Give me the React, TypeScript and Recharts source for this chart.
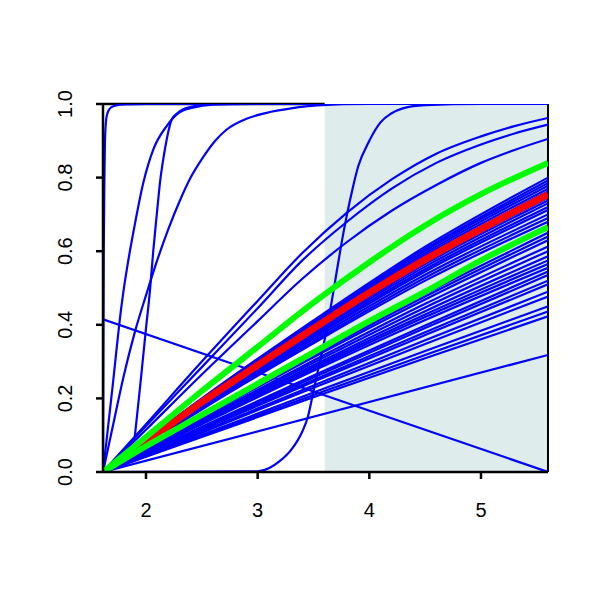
import React from 'react';
import { LineChart, Line, XAxis, YAxis, ReferenceArea, ReferenceLine } from 'recharts';

const xTicks = [2, 3, 4, 5];
const yTicks = [0, 0.2, 0.4, 0.6, 0.8, 1];
const xMin = 1.615;
const xMax = 5.6;
const shadeFrom = 3.6;

// steep curves that saturate at 1
const curveA = [
  [1.615, 0], [1.618, 0.3], [1.622, 0.6], [1.628, 0.8], [1.635, 0.92], [1.648, 0.967],
  [1.67, 0.985], [1.707, 0.994], [1.8, 0.999], [2.0, 1], [5.6, 1],
];
const curveB = [
  [1.615, 0], [1.7, 0.23], [1.78, 0.45], [1.8, 0.495], [1.84, 0.572], [1.886, 0.65],
  [1.976, 0.786], [2.065, 0.876], [2.185, 0.94], [2.3, 0.977], [2.42, 0.99], [2.6, 0.998],
  [3.0, 1], [5.6, 1],
];
const curveC = [
  [1.9, 0.096], [1.95, 0.24], [2.0, 0.39], [2.036, 0.495], [2.065, 0.6], [2.1, 0.71],
  [2.125, 0.786], [2.16, 0.86], [2.185, 0.903], [2.23, 0.958], [2.28, 0.975], [2.33, 0.985],
  [2.45, 0.995], [2.6, 1], [5.6, 1],
];
const curveD = [
  [1.615, 0], [1.7, 0.12], [1.8, 0.26], [1.9, 0.38], [2.0, 0.48], [2.1, 0.575], [2.2, 0.66],
  [2.3, 0.735], [2.4, 0.8], [2.5, 0.85], [2.62, 0.9], [2.72, 0.93], [2.9, 0.96], [3.08, 0.976],
  [3.3, 0.988], [3.53, 0.996], [4.0, 1], [5.6, 1],
];
const curveE = [
  [1.615, 0], [3.0, 0.002], [3.1, 0.01], [3.2, 0.03], [3.3, 0.06], [3.4, 0.11], [3.45, 0.15],
  [3.5, 0.22], [3.55, 0.29], [3.6, 0.36], [3.65, 0.44], [3.7, 0.53], [3.75, 0.62], [3.8, 0.7],
  [3.85, 0.77], [3.9, 0.83], [4.0, 0.9], [4.1, 0.95], [4.2, 0.975], [4.3, 0.988], [4.5, 0.997],
  [5.0, 1], [5.6, 1],
];

// three upper concave curves
const upperX = [1.615, 2.0, 2.5, 3.0, 3.4, 3.8, 4.2, 4.6, 5.0, 5.3, 5.6];
const upperCurves = [
  [0, 0.13, 0.3, 0.465, 0.595, 0.705, 0.795, 0.865, 0.912, 0.94, 0.962],
  [0, 0.125, 0.285, 0.445, 0.575, 0.68, 0.77, 0.84, 0.89, 0.92, 0.944],
  [0, 0.115, 0.265, 0.41, 0.525, 0.625, 0.71, 0.78, 0.84, 0.875, 0.905],
];

// straight lines
const lineDown = [[1.615, 0.415], [5.6, 0]];
const lineUp = [[1.615, 0], [5.6, 0.318]];

// dense fan of blue curves
const fanX = [1.615, 2.5, 3.5, 4.5, 5.6];
const fanCurves = [
  [0, 0.2, 0.412, 0.612, 0.8],
  [0, 0.198, 0.408, 0.606, 0.792],
  [0, 0.196, 0.404, 0.601, 0.785],
  [0, 0.195, 0.401, 0.595, 0.778],
  [0, 0.193, 0.397, 0.589, 0.77],
  [0, 0.191, 0.392, 0.583, 0.762],
  [0, 0.186, 0.384, 0.57, 0.745],
  [0, 0.185, 0.38, 0.565, 0.738],
  [0, 0.183, 0.376, 0.558, 0.73],
  [0, 0.18, 0.371, 0.551, 0.72],
  [0, 0.178, 0.367, 0.545, 0.712],
  [0, 0.175, 0.361, 0.536, 0.7],
  [0, 0.173, 0.355, 0.528, 0.69],
  [0, 0.17, 0.35, 0.52, 0.68],
  [0, 0.153, 0.322, 0.484, 0.65],
  [0, 0.15, 0.317, 0.477, 0.64],
  [0, 0.148, 0.312, 0.469, 0.63],
  [0, 0.144, 0.303, 0.457, 0.613],
  [0, 0.141, 0.297, 0.447, 0.6],
  [0, 0.138, 0.29, 0.437, 0.586],
  [0, 0.135, 0.285, 0.428, 0.575],
  [0, 0.133, 0.28, 0.421, 0.565],
  [0, 0.13, 0.275, 0.413, 0.555],
  [0, 0.123, 0.262, 0.398, 0.545],
  [0, 0.12, 0.257, 0.391, 0.535],
  [0, 0.117, 0.25, 0.38, 0.52],
  [0, 0.115, 0.245, 0.372, 0.51],
  [0, 0.11, 0.235, 0.358, 0.49],
  [0, 0.107, 0.229, 0.348, 0.477],
  [0, 0.101, 0.216, 0.329, 0.45],
  [0, 0.098, 0.209, 0.318, 0.436],
  [0, 0.095, 0.203, 0.309, 0.423],
];

// highlighted curves
const redX = [1.9, 2.0, 2.5, 3.0, 3.5, 4.0, 4.5, 5.0, 5.6];
const redY = [0.064, 0.083, 0.19, 0.29, 0.39, 0.487, 0.577, 0.66, 0.754];
const greenX = [1.615, 2.0, 2.5, 3.0, 3.5, 4.0, 4.5, 5.0, 5.6];
const greenUpper = [0, 0.095, 0.22, 0.34, 0.46, 0.57, 0.67, 0.755, 0.84];
const greenLower = [0, 0.07, 0.155, 0.24, 0.325, 0.41, 0.49, 0.575, 0.665];

const toPts = (pairs: number[][]) => pairs.map(([x, y]) => ({ x, y }));
const zip = (xs: number[], ys: number[]) => xs.map((x, i) => ({ x, y: ys[i] }));

const BLUE = '#0000ff';
const FONT = '"Liberation Sans", Arial, sans-serif';

const YTick = (props: any) => {
  const { x, y, payload } = props;
  const cx = x - 29;
  return (
    <text x={cx} y={y} transform={`rotate(-90 ${cx} ${y})`} textAnchor="middle"
      dominantBaseline="central" fontSize={20} fontFamily={FONT} fill="#000">
      {Number(payload.value).toFixed(1)}
    </text>
  );
};

const XTick = (props: any) => {
  const { x, y, payload } = props;
  return (
    <text x={x} y={y + 29} textAnchor="middle" dominantBaseline="central"
      fontSize={20} fontFamily={FONT} fill="#000">
      {payload.value}
    </text>
  );
};

export default function App() {
  const blueSeries = [
    toPts(lineDown),
    toPts(lineUp),
    ...fanCurves.map((ys) => zip(fanX, ys)),
    ...upperCurves.map((ys) => zip(upperX, ys)),
    toPts(curveE),
    toPts(curveD),
    toPts(curveC),
    toPts(curveB),
    toPts(curveA),
  ];
  return (
    <LineChart width={592} height={592} margin={{ top: 96, right: 52, bottom: 88, left: 35 }}>
      <XAxis type="number" dataKey="x" domain={[xMin, xMax]} ticks={xTicks} allowDataOverflow
        tickSize={7} tick={<XTick />} height={40}
        axisLine={{ stroke: '#000', strokeWidth: 2.5 }} tickLine={{ stroke: '#000', strokeWidth: 2.5 }} />
      <YAxis type="number" dataKey="y" domain={[0, 1]} ticks={yTicks} allowDataOverflow
        tickSize={7} tick={<YTick />} width={60}
        axisLine={{ stroke: '#000', strokeWidth: 2.5 }} tickLine={{ stroke: '#000', strokeWidth: 2.5 }} />
      <ReferenceLine segment={[{ x: xMin, y: 1 }, { x: shadeFrom, y: 1 }]} stroke="#000" strokeWidth={2.5} />
      <ReferenceLine x={xMax} stroke="#000" strokeWidth={2} />
      <ReferenceArea x1={shadeFrom} x2={xMax} y1={0} y2={1} fill="#dfecec" fillOpacity={1} stroke="none" />
      {blueSeries.map((d, i) => (
        <Line key={'b' + i} data={d} dataKey="y" type="monotone" stroke={BLUE} strokeWidth={2.2}
          dot={false} isAnimationActive={false} />
      ))}
      <Line data={zip(redX, redY)} dataKey="y" type="monotone" stroke="#ff0000" strokeWidth={7}
        dot={false} isAnimationActive={false} />
      <Line data={zip(greenX, greenUpper)} dataKey="y" type="monotone" stroke="#00ff00" strokeWidth={6}
        dot={false} isAnimationActive={false} />
      <Line data={zip(greenX, greenLower)} dataKey="y" type="monotone" stroke="#00ff00" strokeWidth={6}
        dot={false} isAnimationActive={false} />
    </LineChart>
  );
}
